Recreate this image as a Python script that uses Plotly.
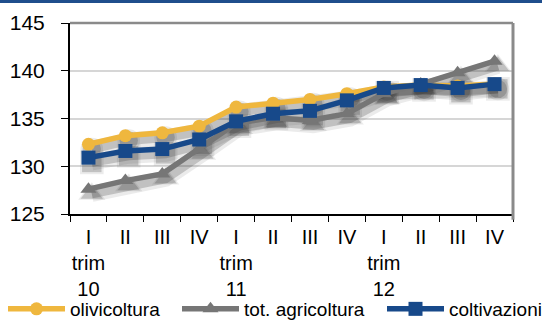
import plotly.graph_objects as go

periods = ["10-I", "10-II", "10-III", "10-IV", "11-I", "11-II", "11-III", "11-IV",
           "12-I", "12-II", "12-III", "12-IV"]
tick_labels = ["I<br>trim<br>10", "II", "III", "IV", "I<br>trim<br>11", "II", "III", "IV",
               "I<br>trim<br>12", "II", "III", "IV"]
olivicoltura = [132.3, 133.2, 133.5, 134.2, 136.2, 136.6, 137.0, 137.6, 138.3, 138.5, 138.4, 138.6]
agricoltura = [127.6, 128.5, 129.2, 131.8, 134.5, 135.1, 134.8, 135.5, 137.6, 138.6, 139.8, 141.0]
coltivazioni = [130.9, 131.6, 131.8, 132.8, 134.7, 135.5, 135.8, 136.9, 138.2, 138.5, 138.2, 138.6]
y_ticks = [125, 130, 135, 140, 145]

series = [
    ("olivicoltura", olivicoltura, "#EFB73E", "circle", 13, "legend", 3),
    ("tot. agricoltura", agricoltura, "#767676", "triangle-up", 14, "legend2", 177),
    ("coltivazioni", coltivazioni, "#17498A", "square", 14, "legend3", 382),
]

FONT = "Liberation Sans, Arial, sans-serif"
fig = go.Figure()

# soft shadows (on hidden, slightly shifted axes underneath)
for name, vals, color, sym, size, leg, lx in series:
    for w, op in [(16, 0.10), (9, 0.24)]:
        fig.add_trace(go.Scatter(
            x=periods, y=vals, xaxis="x", yaxis="y", mode="lines+markers",
            line=dict(color="rgba(60,60,60,%s)" % op, width=w),
            marker=dict(symbol=sym, size=size + w * 0.6, color="rgba(60,60,60,%s)" % op),
            showlegend=False, hoverinfo="skip"))

# real series
for name, vals, color, sym, size, leg, lx in series:
    fig.add_trace(go.Scatter(
        x=periods, y=vals, name=name, xaxis="x2", yaxis="y2", mode="lines+markers",
        line=dict(color=color, width=5.5), legend=leg,
        marker=dict(symbol=sym, size=size, color=color)))

legends = {}
for name, vals, color, sym, size, leg, lx in series:
    legends[leg] = dict(orientation="h", xref="container", yref="container",
                        x=lx / 542, y=11 / 320, xanchor="left", yanchor="middle",
                        font=dict(size=19, family=FONT), itemwidth=57,
                        bgcolor="rgba(0,0,0,0)")

cat_range = [-0.5, 11.5]
fig.update_layout(
    width=542, height=320,
    margin=dict(l=70, r=29, t=23, b=106),
    paper_bgcolor="white", plot_bgcolor="white",
    font=dict(family=FONT, color="black"),
    xaxis=dict(type="category", categoryorder="array", categoryarray=periods,
               range=[cat_range[0] - 0.09, cat_range[1] - 0.09], visible=False,
               automargin=False),
    yaxis=dict(range=[125 + 0.5, 145 + 0.5], visible=False, automargin=False),
    xaxis2=dict(type="category", categoryorder="array", categoryarray=periods,
                overlaying="x", side="bottom", anchor="y2", automargin=False,
                range=cat_range, tickmode="array", tickvals=periods, ticktext=tick_labels,
                tickson="boundaries", ticks="outside", ticklen=6, tickcolor="black",
                showline=True, linecolor="black", linewidth=2, showgrid=False,
                tickangle=0,
                tickfont=dict(size=20, family=FONT), ticklabelstandoff=4),
    yaxis2=dict(overlaying="y", side="left", anchor="x2", range=[125, 145],
                automargin=False,
                tickmode="array", tickvals=y_ticks, ticks="outside", ticklen=7,
                tickcolor="black", showline=True, linecolor="black", linewidth=2,
                showgrid=True, gridcolor="#D6D6D6", gridwidth=1.5,
                tickfont=dict(size=21, family=FONT), ticklabelstandoff=12),
    shapes=[
        dict(type="line", xref="paper", yref="paper", x0=0, x1=1, y0=1, y1=1,
             line=dict(color="#8A8A8A", width=2.5)),
        dict(type="line", xref="paper", yref="paper", x0=1, x1=1, y0=-0.03, y1=1,
             line=dict(color="#8A8A8A", width=3)),
        dict(type="line", xref="paper", yref="paper", x0=-0.2, x1=1.1, y0=1.112, y1=1.112,
             line=dict(color="#1F4E8C", width=3)),
    ],
    **legends,
)

fig.write_html("out.html")
